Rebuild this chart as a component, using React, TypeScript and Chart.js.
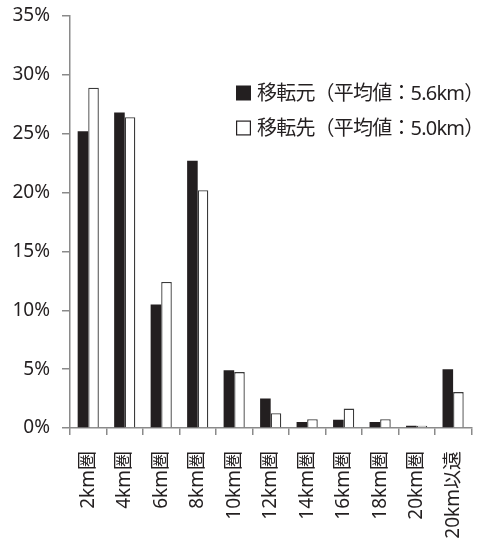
import React, { useEffect, useRef } from "react";
import { Chart, registerables } from "chart.js";

Chart.register(...registerables);

// Distance bands
const categories = [
  "2km圏", "4km圏", "6km圏", "8km圏", "10km圏", "12km圏",
  "14km圏", "16km圏", "18km圏", "20km圏", "20km以遠",
];

// Share of relocations (%) by distance band
const originShare = [25.2, 26.8, 10.5, 22.7, 4.9, 2.5, 0.5, 0.7, 0.5, 0.2, 5.0];
const destinationShare = [28.9, 26.4, 12.4, 20.2, 4.75, 1.25, 0.75, 1.65, 0.75, 0.2, 3.05];

const seriesNames = ["移転元（平均値：5.6km）", "移転先（平均値：5.0km）"];

const yTicks = [0, 5, 10, 15, 20, 25, 30, 35];

const FONT = '"Noto Sans", "Noto Sans CJK JP", sans-serif';
const INK = "#231f20";
const AXIS = "#8a8a8a";

// Box-style legend drawn inside the plot area
const boxLegend = {
  id: "boxLegend",
  afterDraw(chart: any) {
    const { ctx, chartArea } = chart;
    const left = chartArea.left + 166;
    const rowY = [chartArea.top + 77, chartArea.top + 112];
    const size = 15;
    ctx.save();
    ctx.font = `20px ${FONT}`;
    (ctx as any).letterSpacing = "-0.8px";
    ctx.textBaseline = "middle";
    ctx.textAlign = "left";
    chart.data.datasets.forEach((ds: any, i: number) => {
      const cy = rowY[i];
      if (i === 0) {
        ctx.fillStyle = INK;
        ctx.fillRect(left, cy - size / 2, size, size);
      } else {
        ctx.fillStyle = "#ffffff";
        ctx.fillRect(left, cy - size / 2, size, size);
        ctx.strokeStyle = INK;
        ctx.lineWidth = 1.2;
        ctx.strokeRect(left + 0.6, cy - size / 2 + 0.6, size - 1.2, size - 1.2);
      }
      ctx.fillStyle = INK;
      ctx.fillText(ds.label, left + 21, cy + 1);
    });
    ctx.restore();
  },
};

export default function App() {
  const canvasRef = useRef<HTMLCanvasElement | null>(null);

  useEffect(() => {
    const canvas = canvasRef.current;
    if (!canvas) return;
    const chart = new Chart(canvas, {
      type: "bar",
      data: {
        labels: categories,
        datasets: [
          {
            label: seriesNames[0],
            data: originShare,
            backgroundColor: INK,
            borderColor: INK,
            borderWidth: 0,
            categoryPercentage: 0.58,
            barPercentage: 1,
          },
          {
            label: seriesNames[1],
            data: destinationShare,
            backgroundColor: "#ffffff",
            borderColor: "#3a3a3a",
            borderWidth: 1.3,
            categoryPercentage: 0.58,
            barPercentage: 1,
          },
        ],
      },
      options: {
        responsive: false,
        animation: false,
        layout: { padding: { left: 0, right: 2, top: 16, bottom: 0 } },
        plugins: {
          legend: { display: false },
          tooltip: { enabled: false },
        },
        scales: {
          x: {
            offset: true,
            grid: {
              display: true,
              offset: true,
              drawOnChartArea: false,
              drawTicks: true,
              tickLength: 7,
              color: AXIS,
              lineWidth: 1.5,
            },
            border: { display: true, color: AXIS, width: 1.5 },
            ticks: {
              color: INK,
              font: { family: FONT, size: 19 },
              minRotation: 90,
              maxRotation: 90,
              padding: 16,
              autoSkip: false,
            },
            afterFit(scale: any) {
              scale.height = 117;
            },
          },
          y: {
            min: 0,
            max: 35,
            afterBuildTicks(scale: any) {
              scale.ticks = yTicks.map((v) => ({ value: v }));
            },
            grid: {
              display: true,
              drawOnChartArea: false,
              drawTicks: true,
              tickLength: 8,
              color: AXIS,
              lineWidth: 1.5,
            },
            border: { display: true, color: AXIS, width: 1.5 },
            ticks: {
              color: INK,
              font: { family: FONT, size: 19 },
              padding: 12,
              callback: (v: any) => `${v}%`,
            },
            afterFit(scale: any) {
              scale.width = 70;
              scale.paddingTop = 0;
              scale.paddingBottom = 0;
            },
          },
        },
      },
      plugins: [boxLegend],
    });
    return () => chart.destroy();
  }, []);

  return (
    <div style={{ position: "absolute", left: 0, top: 0, width: 492, height: 545, background: "#ffffff" }}>
      <canvas ref={canvasRef} width={492} height={545} style={{ display: "block" }} />
    </div>
  );
}
